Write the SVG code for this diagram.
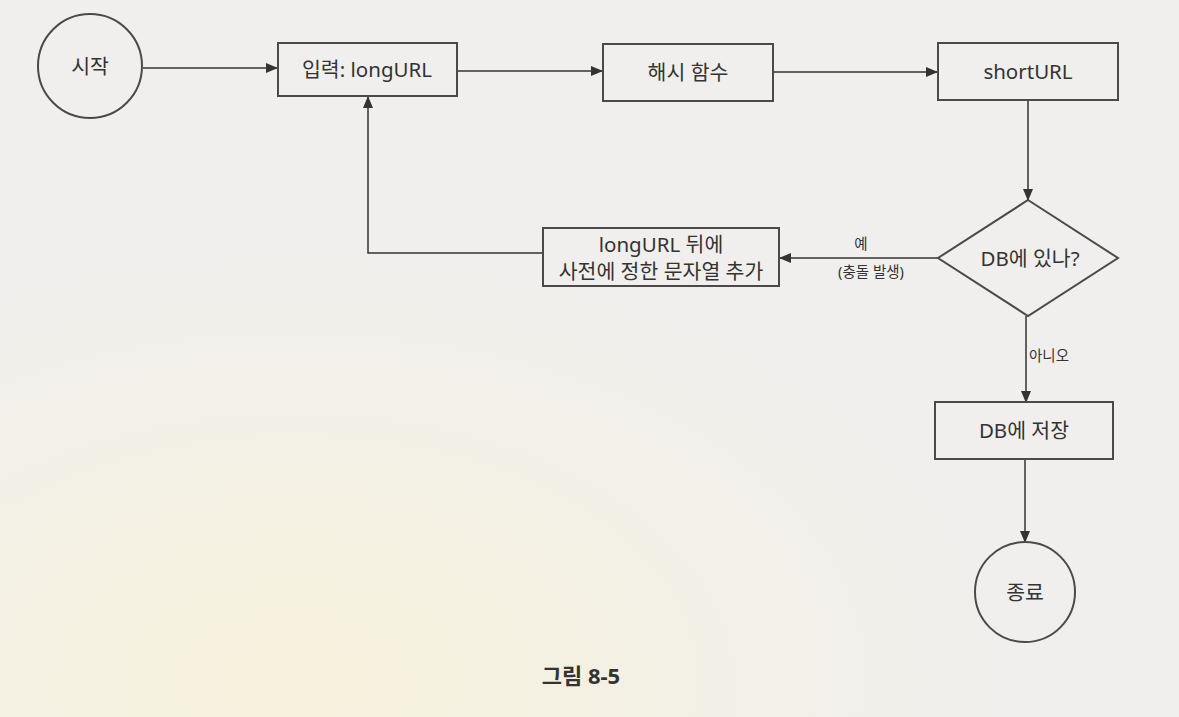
<svg xmlns="http://www.w3.org/2000/svg" width="1179" height="717" viewBox="0 0 1179 717">
<defs>
<marker id="ah" markerWidth="12" markerHeight="10" refX="11" refY="5" orient="auto" markerUnits="userSpaceOnUse">
<path d="M0,0 L12,5 L0,10 Z" fill="#333"/>
</marker>
<radialGradient id="bg" cx="0.25" cy="0.95" r="0.6">
<stop offset="0" stop-color="#f6f2dc"/>
<stop offset="1" stop-color="#f0efed"/>
</radialGradient>
</defs>
<style>
.shape{fill:none;stroke:#4a4a4a;stroke-width:2}
.conn{fill:none;stroke:#333;stroke-width:1.5}
.t{font-family:"Noto Sans","Noto Sans CJK KR",sans-serif;font-size:20.5px;fill:#333;text-anchor:middle;dominant-baseline:central}
.s{font-family:"Noto Sans","Noto Sans CJK KR",sans-serif;font-size:14.5px;fill:#333;dominant-baseline:central}
</style>
<rect width="1179" height="717" fill="url(#bg)"/>
<g id="connectors">
<line class="conn" x1="143" y1="68" x2="277" y2="68" marker-end="url(#ah)"/>
<line class="conn" x1="457" y1="71" x2="602" y2="71" marker-end="url(#ah)"/>
<line class="conn" x1="773" y1="72" x2="937" y2="72" marker-end="url(#ah)"/>
<line class="conn" x1="1028" y1="100" x2="1028" y2="200" marker-end="url(#ah)"/>
<line class="conn" x1="938" y1="258" x2="780" y2="258" marker-end="url(#ah)"/>
<polyline class="conn" points="543,253 368,253 368,97" marker-end="url(#ah)"/>
<line class="conn" x1="1026" y1="316" x2="1026" y2="402" marker-end="url(#ah)"/>
<line class="conn" x1="1025" y1="459" x2="1025" y2="542" marker-end="url(#ah)"/>
<text class="s" x="861" y="243" text-anchor="middle">예</text>
<text class="s" x="871" y="271" text-anchor="middle">(충돌 발생)</text>
<text class="s" x="1029" y="355">아니오</text>
</g>
<g id="start">
<circle class="shape" cx="90" cy="66" r="52"/>
<text class="t" x="90" y="66">시작</text>
</g>
<g id="input">
<rect class="shape" x="278" y="43" width="179" height="53"/>
<text class="t" x="367" y="69">입력: longURL</text>
</g>
<g id="hash">
<rect class="shape" x="603" y="44" width="170" height="57"/>
<text class="t" x="688" y="72">해시 함수</text>
</g>
<g id="shorturl">
<rect class="shape" x="938" y="43" width="180" height="57"/>
<text class="t" x="1028" y="71">shortURL</text>
</g>
<g id="decision">
<polygon class="shape" points="1028,200 1118,258 1028,316 938,258"/>
<text class="t" x="1030" y="258">DB에 있나?</text>
</g>
<g id="append">
<rect class="shape" x="543" y="228" width="236" height="58"/>
<text class="t" x="661" y="244">longURL 뒤에</text>
<text class="t" x="661" y="271">사전에 정한 문자열 추가</text>
</g>
<g id="save">
<rect class="shape" x="935" y="402" width="178" height="57"/>
<text class="t" x="1024" y="430">DB에 저장</text>
</g>
<g id="end">
<circle class="shape" cx="1025" cy="592" r="50"/>
<text class="t" x="1025" y="592">종료</text>
</g>
<text class="t" x="581" y="675" style="font-weight:bold;font-size:22px">그림 8-5</text>
</svg>
